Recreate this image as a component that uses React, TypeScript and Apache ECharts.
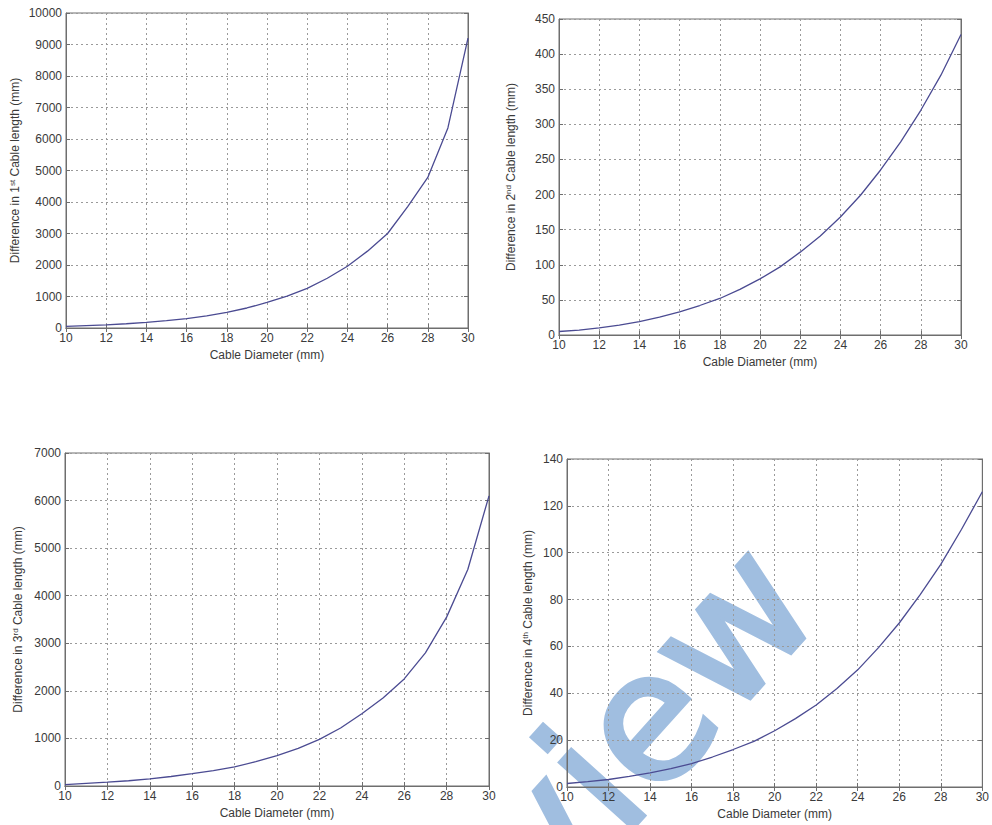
import React, { useEffect, useRef } from "react";
import * as echarts from "echarts";

// Cable diameter (mm) sampled at every millimetre
const diameters = [10, 11, 12, 13, 14, 15, 16, 17, 18, 19, 20, 21, 22, 23, 24, 25, 26, 27, 28, 29, 30];

// Difference in cable length (mm) for each of the four cables
const firstCable = [50, 75, 100, 135, 180, 235, 300, 385, 495, 635, 810, 1010, 1260, 1580, 1960, 2440, 3000, 3850, 4780, 6350, 9200];
const secondCable = [5, 7, 10, 14, 19, 25.5, 33, 42, 52, 65, 80, 97, 118, 141, 168, 199, 235, 275, 320, 370, 428];
const thirdCable = [30, 55, 80, 110, 150, 200, 260, 325, 400, 510, 640, 790, 980, 1220, 1520, 1850, 2250, 2800, 3550, 4550, 6100];
const fourthCable = [1.5, 2.3, 3.2, 4.5, 6, 7.8, 10, 12.8, 16, 19.5, 24, 29.2, 35, 42, 50, 59.5, 70, 82, 95, 110, 126];

// Axis ranges
const xMin = 10;
const xMax = 30;
const xStep = 2;
const yMaxes = [10000, 450, 7000, 140];
const ySteps = [1000, 50, 1000, 20];
const cableNumbers = ["1", "2", "3", "4"];
const ordinalSuffixes = ["st", "nd", "rd", "th"];
const xAxisTitle = "Cable Diameter (mm)";
const watermark = "Preview";

const FONT = '"Liberation Sans", Arial, Helvetica, sans-serif';
const TEXT = "#3a3a3a";
const BOX = "#6e6e6e";
const GRIDLINE = "#9a9a9a";
const CURVE = "#4b4b92";
const WATERMARK = "#a0bee0";

// Panel placement in the 2x2 layout
const panels = [
  { left: 66, top: 13, width: 402, height: 315, yNameGap: 44 },
  { left: 559, top: 19, width: 402, height: 316, yNameGap: 41 },
  { left: 65, top: 453, width: 424, height: 333, yNameGap: 40 },
  { left: 567, top: 459, width: 417, height: 328, yNameGap: 32 },
];

export default function App() {
  const ref = useRef<HTMLDivElement>(null);

  useEffect(() => {
    if (!ref.current) return;
    const chart = echarts.init(ref.current, undefined, { renderer: "svg" });
    const seriesValues = [firstCable, secondCable, thirdCable, fourthCable];

    const grid: any[] = [];
    const xAxis: any[] = [];
    const yAxis: any[] = [];
    const series: any[] = [];

    panels.forEach((p, i) => {
      grid.push({
        left: p.left,
        top: p.top,
        width: p.width,
        height: p.height,
        show: true,
        borderColor: BOX,
        borderWidth: 1,
        backgroundColor: "transparent",
      });

      const tickStyle = { show: true, inside: true, length: 4, lineStyle: { color: BOX, width: 1 } };

      // bottom x axis with labels and vertical grid lines
      xAxis.push({
        type: "value",
        gridIndex: i,
        position: "bottom",
        min: xMin,
        max: xMax,
        interval: xStep,
        axisLine: { show: true, lineStyle: { color: BOX, width: 1 } },
        axisTick: tickStyle,
        axisLabel: { margin: 4, color: TEXT, fontSize: 12, fontFamily: FONT },
        splitLine: { show: true, lineStyle: { color: GRIDLINE, width: 1, type: [2, 3] } },
        name: xAxisTitle,
        nameLocation: "middle",
        nameGap: 21,
        nameTextStyle: { color: TEXT, fontSize: 12, fontFamily: FONT },
      });
      // top x axis: ticks only
      xAxis.push({
        type: "value",
        gridIndex: i,
        position: "top",
        min: xMin,
        max: xMax,
        interval: xStep,
        axisLine: { show: true, lineStyle: { color: BOX, width: 1 } },
        axisTick: tickStyle,
        axisLabel: { show: false },
        splitLine: { show: false },
      });

      const yName = `{t|Difference in ${cableNumbers[i]}}{s|${ordinalSuffixes[i]}}{t| Cable length (mm)}`;
      yAxis.push({
        type: "value",
        gridIndex: i,
        position: "left",
        min: 0,
        max: yMaxes[i],
        interval: ySteps[i],
        axisLine: { show: true, lineStyle: { color: BOX, width: 1 } },
        axisTick: tickStyle,
        axisLabel: {
          margin: 4,
          color: TEXT,
          fontSize: 12,
          fontFamily: FONT,
          formatter: (v: number) => String(v),
        },
        splitLine: { show: true, lineStyle: { color: GRIDLINE, width: 1, type: [2, 3] } },
        name: yName,
        nameLocation: "middle",
        nameGap: p.yNameGap,
        nameTextStyle: {
          color: TEXT,
          fontSize: 12,
          fontFamily: FONT,
          rich: {
            t: { color: TEXT, fontSize: 12, fontFamily: FONT, lineHeight: 14 },
            s: { color: TEXT, fontSize: 8, fontFamily: FONT, verticalAlign: "top", lineHeight: 14 },
          },
        },
      });
      // right y axis: ticks only
      yAxis.push({
        type: "value",
        gridIndex: i,
        position: "right",
        min: 0,
        max: yMaxes[i],
        interval: ySteps[i],
        axisLine: { show: true, lineStyle: { color: BOX, width: 1 } },
        axisTick: tickStyle,
        axisLabel: { show: false },
        splitLine: { show: false },
      });

      series.push({
        type: "line",
        xAxisIndex: 2 * i,
        yAxisIndex: 2 * i,
        data: diameters.map((d, k) => [d, seriesValues[i][k]]),
        showSymbol: false,
        symbol: "none",
        lineStyle: { color: CURVE, width: 1.3 },
        itemStyle: { color: CURVE },
        z: 3,
      });
    });

    chart.setOption({
      animation: false,
      backgroundColor: "#ffffff",
      grid,
      xAxis,
      yAxis,
      series,
      graphic: [
        {
          type: "text",
          x: 548,
          y: 830,
          rotation: (48 * Math.PI) / 180,
          z: -1,
          silent: true,
          style: {
            text: watermark,
            fontSize: 178,
            fontWeight: "normal",
            fontFamily: '"DejaVu Sans", sans-serif',
            fill: WATERMARK,
            stroke: WATERMARK,
            lineWidth: 5,
            align: "center",
            verticalAlign: "middle",
          },
        },
      ],
    });

    return () => chart.dispose();
  }, []);

  return (
    <div
      ref={ref}
      style={{ position: "absolute", left: 0, top: 0, width: 992, height: 825, background: "#fff" }}
    />
  );
}
